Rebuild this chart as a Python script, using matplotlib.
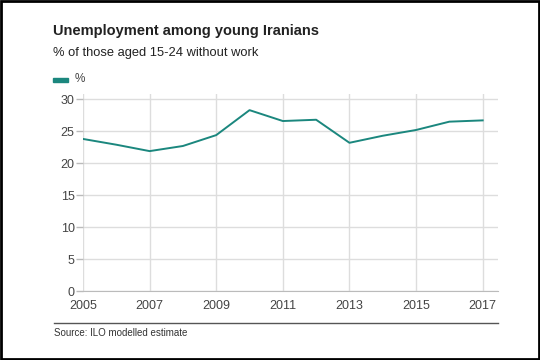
import matplotlib
matplotlib.use("Agg")
import matplotlib.pyplot as plt
from matplotlib.patches import Rectangle
from matplotlib.lines import Line2D

plt.rcParams['font.family'] = ['Liberation Sans', 'DejaVu Sans']

# data
years = [2005, 2006, 2007, 2008, 2009, 2010, 2011, 2012, 2013, 2014, 2015, 2016, 2017]
rate = [23.8, 22.9, 21.9, 22.7, 24.4, 28.3, 26.6, 26.8, 23.2, 24.3, 25.2, 26.5, 26.7]
xticks = [2005, 2007, 2009, 2011, 2013, 2015, 2017]
yticks = [0, 5, 10, 15, 20, 25, 30]

teal = '#1b877e'

fig = plt.figure(figsize=(5.4, 3.6), dpi=100)
ax = fig.add_axes([83 / 540, 1 - 291.3 / 360, (498 - 83) / 540, 197.8 / 360])

ax.plot(years, rate, color=teal, lw=1.4, zorder=3)
ax.set_xlim(2005, 2017.46)
ax.set_ylim(0, 30.9)
ax.set_xticks(xticks)
ax.set_yticks(yticks)
ax.grid(True, color='#dddddd', lw=1)
ax.set_axisbelow(True)
for s in ['top', 'right', 'left']:
    ax.spines[s].set_visible(False)
ax.spines['bottom'].set_color('#bbbbbb')
ax.tick_params(axis='x', length=0, pad=6, labelsize=9, colors='#444444')
ax.tick_params(axis='y', length=5, width=1, color='#bbbbbb', pad=1,
               labelsize=9, labelcolor='#444444')

# title, subtitle, legend
fig.text(53 / 540, 1 - 31 / 360, 'Unemployment among young Iranians',
         fontsize=10.5, fontweight='bold', color='#222222', va='center')
fig.text(53 / 540, 1 - 53 / 360, '% of those aged 15-24 without work',
         fontsize=9.3, color='#222222', va='center')
fig.patches.append(Rectangle((53 / 540, 1 - 82 / 360), 15 / 540, 4 / 360,
                             transform=fig.transFigure, color=teal))
fig.text(75 / 540, 1 - 79 / 360, '%', fontsize=8.5, color='#444444', va='center')

# bottom rule and source
fig.lines.append(Line2D([54 / 540, 498 / 540], [1 - 323 / 360] * 2,
                        transform=fig.transFigure, color='#555555', lw=1))
fig.text(54 / 540, 1 - 333 / 360, 'Source: ILO modelled estimate',
         fontsize=7, color='#333333', va='center')

# frame around the image
fig.patches.append(Rectangle((0.002, 0.003), 0.996, 0.994, transform=fig.transFigure,
                             fill=False, ec='black', lw=2))

fig.savefig('out.png', dpi=100)
